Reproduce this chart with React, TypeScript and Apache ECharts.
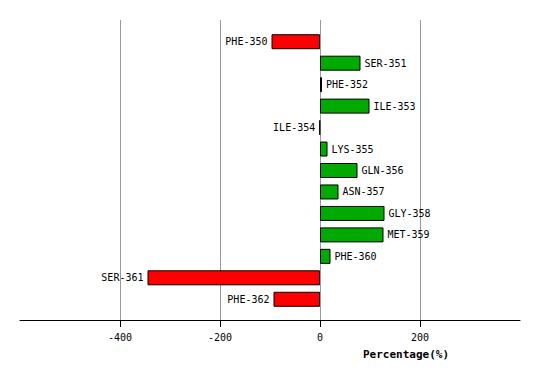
import React, { useEffect, useRef } from "react";
import * as echarts from "echarts";

const categories = [
  "PHE-350", "SER-351", "PHE-352", "ILE-353", "ILE-354", "LYS-355", "GLN-356",
  "ASN-357", "GLY-358", "MET-359", "PHE-360", "SER-361", "PHE-362",
];
const values = [-97, 81, 4, 99, -1, 15, 75, 37, 129, 127, 21, -345, -93];
const tickValues = [-400, -200, 0, 200];
const axisName = "Percentage(%)";

export default function App() {
  const ref = useRef<HTMLDivElement>(null);
  useEffect(() => {
    if (!ref.current) return;
    const chart = echarts.init(ref.current, undefined, { renderer: "svg" });
    const font = "'DejaVu Sans Mono', monospace";
    chart.setOption({
      animation: false,
      grid: [
        { left: 20, right: 20, top: 20, bottom: 61 },
        { left: 20, right: 20, top: 31, bottom: 71 },
      ],
      xAxis: [
        {
          type: "value",
          gridIndex: 0,
          min: -600,
          max: 400,
          interval: 200,
          axisLine: { show: true, lineStyle: { color: "#000", width: 1 } },
          axisTick: { show: true, length: 7, lineStyle: { color: "#000" }, customValues: tickValues },
          axisLabel: {
            customValues: tickValues,
            color: "#000",
            fontFamily: font,
            fontSize: 10,
            margin: 12,
          },
          splitLine: {
            show: true,
            showMinLine: true,
            showMaxLine: true,
            lineStyle: { color: "#999", width: 1 },
          },
        },
        {
          type: "value",
          gridIndex: 1,
          min: -600,
          max: 400,
          show: false,
          splitLine: { show: false },
        },
      ],
      yAxis: [
        { type: "category", gridIndex: 0, data: categories, show: false, inverse: true },
        { type: "category", gridIndex: 1, data: categories, show: false, inverse: true },
      ],
      graphic: [
        {
          type: "text",
          left: 363,
          top: 349,
          style: {
            text: axisName,
            fill: "#000",
            font: `bold 11px ${font}`,
          },
        },
      ],
      series: [
        {
          type: "bar",
          xAxisIndex: 1,
          yAxisIndex: 1,
          barWidth: 15,
          data: values.map((v) => ({
            value: v,
            itemStyle: {
              color: v < 0 ? "#ff0000" : "#00aa00",
              borderColor: "#000",
              borderWidth: 1,
            },
            label: {
              show: true,
              position: v < 0 ? "left" : "right",
              distance: 4,
              formatter: "{b}",
              color: "#000",
              fontFamily: font,
              fontSize: 10,
            },
          })),
        },
      ],
    });
    return () => chart.dispose();
  }, []);
  return <div ref={ref} style={{ width: 540, height: 381, position: "absolute", left: 0, top: 0 }} />;
}
